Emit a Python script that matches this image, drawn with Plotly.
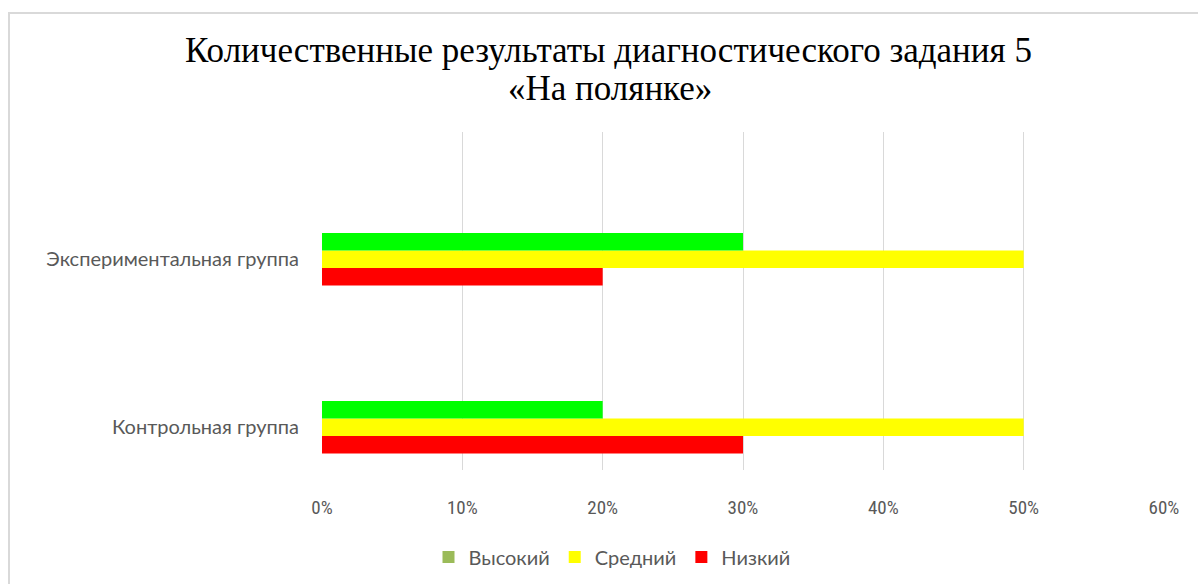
import plotly.graph_objects as go

categories = ["Контрольная группа", "Экспериментальная группа"]
series_names = ["Высокий", "Средний", "Низкий"]
high = [0.20, 0.30]
medium = [0.50, 0.50]
low = [0.30, 0.20]
x_ticks = [0, 0.1, 0.2, 0.3, 0.4, 0.5, 0.6]
x_tick_labels = ["0%", "10%", "20%", "30%", "40%", "50%", "60%"]
title_lines = ["Количественные результаты диагностического задания 5", "«На полянке»"]

bar_colors = {"Высокий": "#00FF00", "Средний": "#FFFF00", "Низкий": "#FF0000"}
legend_colors = {"Высокий": "#9BBB59", "Средний": "#FFFF00", "Низкий": "#FF0000"}
values = {"Высокий": high, "Средний": medium, "Низкий": low}

fig = go.Figure()
# bars drawn bottom-to-top within each group: Низкий, Средний, Высокий
for name in ["Низкий", "Средний", "Высокий"]:
    fig.add_trace(go.Bar(
        y=categories, x=values[name], orientation="h", name=name,
        marker=dict(color=bar_colors[name], line=dict(width=0)),
        showlegend=False, hoverinfo="x+y",
    ))
# legend entries
for name in series_names:
    fig.add_trace(go.Scatter(
        x=[None], y=[None], mode="markers", name=name,
        marker=dict(symbol="square", size=12, color=legend_colors[name]),
        showlegend=True, hoverinfo="skip",
    ))

L, T, R, B = 322, 132, 1164, 470
W, H = 1198, 584
pw, ph = R - L, B - T

def px_to_paper_x(px):
    return (px - L) / pw

def px_to_paper_y(py):
    return (B - py) / ph

title_font = dict(family="Liberation Serif, Times New Roman, serif", size=35, color="#000000")
annotations = [
    dict(text=title_lines[0], xref="paper", yref="paper",
         x=px_to_paper_x(608), y=px_to_paper_y(50), xanchor="center", yanchor="middle",
         showarrow=False, font=title_font),
    dict(text=title_lines[1], xref="paper", yref="paper",
         x=px_to_paper_x(610), y=px_to_paper_y(88), xanchor="center", yanchor="middle",
         showarrow=False, font=title_font),
]

side_font = dict(family="Lato, Open Sans, sans-serif", size=20, color="#595959")

fig.update_layout(
    width=W, height=H,
    margin=dict(l=L, r=W - R, t=T, b=H - B, pad=0, autoexpand=False),
    paper_bgcolor="white", plot_bgcolor="white",
    barmode="group", bargap=0.6875, bargroupgap=0,
    annotations=annotations,
    xaxis=dict(
        range=[0, 0.6], tickvals=x_ticks, ticktext=x_tick_labels,
        showgrid=True, gridcolor="#D9D9D9", gridwidth=1,
        zeroline=False, showline=False, ticks="",
        ticklabelstandoff=24,
        tickfont=dict(family="Liberation Sans Narrow, Roboto Condensed, Liberation Sans, sans-serif", size=19, color="#595959"),
        fixedrange=True,
    ),
    yaxis=dict(
        type="category", categoryorder="array", categoryarray=categories,
        range=[-0.254, 1.758],
        showgrid=False, zeroline=False, showline=False, ticks="",
        ticklabelstandoff=22,
        tickfont=side_font,
        fixedrange=True,
    ),
    legend=dict(
        orientation="h", x=px_to_paper_x(612), xref="paper", xanchor="center",
        y=px_to_paper_y(557), yanchor="middle",
        font=side_font,
        traceorder="normal", tracegroupgap=0,
        bgcolor="rgba(0,0,0,0)",
    ),
    shapes=[
        dict(type="rect", xref="paper", yref="paper",
             x0=px_to_paper_x(9), x1=px_to_paper_x(1205),
             y0=px_to_paper_y(595), y1=px_to_paper_y(13),
             line=dict(color="#D9D9D9", width=2), fillcolor="rgba(0,0,0,0)",
             layer="below"),
    ],
)

fig.write_html("out.html")
